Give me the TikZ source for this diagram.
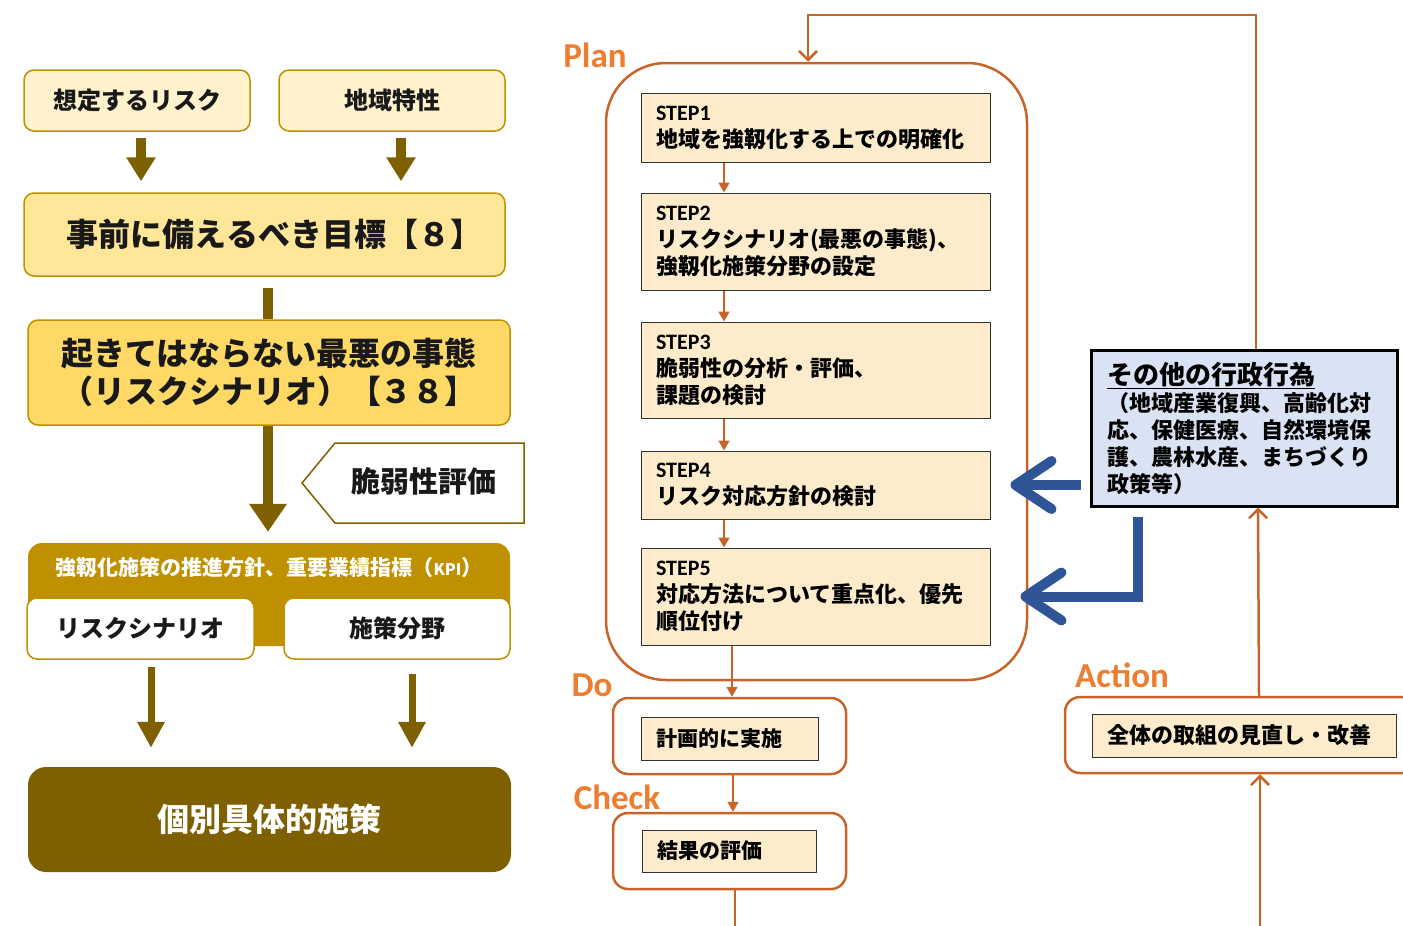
\documentclass[tikz,border=0pt]{standalone}
\usepackage{fontspec}
\setmainfont{Noto Sans CJK JP}
\newfontfamily\calfont{Carlito}
\usetikzlibrary{arrows.meta,calc}
\definecolor{gold}{HTML}{BF9000}
\definecolor{dkgold}{HTML}{7F6000}
\definecolor{cream}{HTML}{FFF2CC}
\definecolor{lyel}{HTML}{FFE699}
\definecolor{myel}{HTML}{FFD966}
\definecolor{orln}{RGB}{200,100,40}
\definecolor{orlab}{HTML}{ED7D31}
\definecolor{stepfill}{RGB}{253,236,204}
\definecolor{bluefill}{HTML}{DAE3F3}
\definecolor{bluearr}{HTML}{2F5597}
\newcommand{\fs}[2]{\fontsize{#1}{#2}\selectfont}
\newcommand{\stp}[1]{{\calfont\bfseries\fontsize{22}{27}\selectfont #1}}
\begin{document}
\begin{tikzpicture}[x=1pt,y=-1pt,
  every node/.style={inner sep=0pt},
  lbox/.style={draw=gold, line width=1.5pt, rounded corners=10pt, align=center, text=black!90},
  bigarr/.style={draw=dkgold, line width=10pt, -{Triangle[length=24pt,width=28pt]}},
  midarr/.style={draw=dkgold, line width=7pt, -{Triangle[length=26pt,width=26pt]}},
  stepbox/.style={draw=black!80, line width=1pt, fill=stepfill, minimum width=349, text width=319, align=left, font=\bfseries\fs{22}{27}},
  pbox/.style={draw=orln, line width=2.5pt, rounded corners=15pt, minimum width=233, minimum height=76},
  ibox/.style={draw=black!80, line width=1pt, fill=stepfill, align=left, font=\bfseries\fs{21}{27}},
  oarr/.style={draw=orln, line width=1.8pt, -{Triangle[length=10pt,width=11pt]}},
  oarrv/.style={draw=orln, line width=2.5pt, -{Straight Barb[length=9pt,width=18pt]}},
  barr/.style={draw=bluearr, line width=10pt, -{Straight Barb[length=36pt,width=48pt,round]}},
  lab/.style={text=orlab, font=\calfont\bfseries\fs{35}{40}}
]
\useasboundingbox (0,0) rectangle (1403,926);
\clip (0,0) rectangle (1403,926);
\fill[white] (0,0) rectangle (1403,926);

% ---------------- left panel ----------------
\node[lbox, fill=cream, minimum width=226, minimum height=61, font=\bfseries\fs{24}{28}] (r1) at (137,100.5) {想定するリスク};
\node[lbox, fill=cream, minimum width=226, minimum height=61, font=\bfseries\fs{24}{28}] (r2) at (392,100.5) {地域特性};
\node[lbox, fill=lyel, minimum width=481, minimum height=83, font=\bfseries\fs{32}{38}] (goal) at (264.5,234.5) {\hspace*{20pt}事前に備えるべき目標【８】};
\node[lbox, fill=myel, minimum width=482, minimum height=105, font=\bfseries\fs{32}{38}] (worst) at (269,372.5) {起きてはならない最悪の事態\\（リスクシナリオ）【３８】};

\draw[draw=dkgold, line width=1.5pt, fill=white] (302,483) -- (335,443) -- (524,443) -- (524,523) -- (335,523) -- cycle;
\node[font=\bfseries\fs{29}{34}, text=black!90] (vuln) at (424,481) {脆弱性評価};

\node[fill=gold, rounded corners=14pt, minimum width=482, minimum height=103] (kpi) at (269,594.5) {};
\node[text=white, font=\bfseries\fs{21}{24}] (kpit) at (269,568) {強靱化施策の推進方針、重要業績指標（{\fs{16}{18}KPI}）};
\node[lbox, fill=white, minimum width=227, minimum height=61, font=\bfseries\fs{24}{28}] (rs) at (140.5,628.5) {リスクシナリオ};
\node[lbox, fill=white, minimum width=226, minimum height=61, font=\bfseries\fs{24}{28}] (sf) at (397,628.5) {施策分野};
\node[fill=dkgold, rounded corners=18pt, minimum width=483, minimum height=105, text=white, font=\bfseries\fs{32}{38}] (indiv) at (269.5,819.5) {個別具体的施策};

\draw[bigarr] ([xshift=4pt,yshift=-6pt]r1.south) -- ([xshift=-123.5pt,yshift=11pt]goal.north);
\draw[bigarr] ([xshift=9pt,yshift=-6pt]r2.south) -- ([xshift=136.5pt,yshift=11pt]goal.north);
\draw[draw=dkgold, line width=10pt] ([xshift=3.5pt,yshift=-11pt]goal.south) -- ([xshift=-1pt]worst.north);
\draw[draw=dkgold, line width=10pt, -{Triangle[length=28pt,width=36pt]}] ([xshift=-1pt]worst.south) -- ([xshift=-1pt,yshift=11pt]kpi.north);
\draw[midarr] ([xshift=10.5pt,yshift=-7pt]rs.south) -- ([xshift=-118.5pt,yshift=19pt]indiv.north);
\draw[midarr] ([xshift=15pt,yshift=-14pt]sf.south) -- ([xshift=142.5pt,yshift=19pt]indiv.north);

% ---------------- right panel ----------------
\node[draw=orln, line width=2.5pt, rounded corners=60pt, minimum width=421, minimum height=617] (plan) at (816.5,371.5) {};
\node[lab] (pl) at (595,55) {Plan};
\node[lab] (dl) at (592,685) {Do};
\node[lab] (cl) at (617,797) {Check};
\node[lab] (al) at (1122,675) {Action};

\node[stepbox, minimum height=69] (s1) at (815.5,127.5) {\stp{STEP1}\\地域を強靱化する上での明確化};
\node[stepbox, minimum height=97] (s2) at (815.5,241.5) {\stp{STEP2}\\リスクシナリオ(最悪の事態)、\\強靱化施策分野の設定};
\node[stepbox, minimum height=96] (s3) at (815.5,370) {\stp{STEP3}\\脆弱性の分析・評価、\\課題の検討};
\node[stepbox, minimum height=68] (s4) at (815.5,485) {\stp{STEP4}\\リスク対応方針の検討};
\node[stepbox, minimum height=97] (s5) at (815.5,596.5) {\stp{STEP5}\\対応方法について重点化、優先\\順位付け};

\draw[oarr] ([xshift=-91.5pt]s1.south) -- ([xshift=-91.5pt]s2.north);
\draw[oarr] ([xshift=-91.5pt]s2.south) -- ([xshift=-91.5pt]s3.north);
\draw[oarr] ([xshift=-91.5pt]s3.south) -- ([xshift=-91.5pt]s4.north);
\draw[oarr] ([xshift=-91.5pt]s4.south) -- ([xshift=-91.5pt]s5.north);

\node[pbox] (dobox) at (729.5,736) {};
\node[ibox, minimum width=177, minimum height=43, text width=147] (doin) at (729.5,738.5) {計画的に実施};
\node[pbox] (checkbox) at (729.5,851) {};
\node[ibox, minimum width=174, minimum height=42, text width=144] (checkin) at (729,851) {結果の評価};
\node[pbox, minimum width=360] (act) at (1245,735) {};
\node[ibox, minimum width=304, minimum height=43, text width=274, font=\bfseries\fs{22}{27}] (actin) at (1244,735.5) {全体の取組の見直し・改善};

\node[draw=black, line width=3pt, fill=bluefill, minimum width=306, minimum height=156, text width=274, align=left, font=\bfseries\fs{22}{27}] (other) at (1244,428)
 {{\fs{26}{30}\underline{その他の行政行為}}\\（地域産業復興、高齢化対\\応、保健医療、自然環境保\\護、農林水産、まちづくり\\政策等）};

\draw[oarr] ([xshift=-83.5pt]s5.south) -- ([xshift=2.5pt]dobox.north);
\draw[oarr] ([xshift=3.5pt]dobox.south) -- ([xshift=3.5pt]checkbox.north);
\coordinate (cbot) at (735,926);
\draw[draw=orln, line width=2.5pt] (checkbox.south -| cbot) -- (cbot);
\coordinate (abot) at (1260,926);
\draw[oarrv] (abot) -- (act.south -| abot);
\draw[oarrv] ([xshift=14pt]act.north) -- ([xshift=14pt]other.south);
\coordinate (topL) at (808,15);
\draw[oarrv] ([xshift=12pt]other.north) |- (topL) -- (plan.north -| topL);

\coordinate (a1s) at ([xshift=-9pt]other.west);
\draw[barr, line cap=butt] (a1s |- s4.east) -- ([xshift=20pt]s4.east);
\coordinate (a2s) at ([xshift=-106pt,yshift=-9pt]other.south);
\draw[barr, line cap=butt, line join=miter] (a2s) |- ([xshift=30pt]s5.east);
\end{tikzpicture}
\end{document}
